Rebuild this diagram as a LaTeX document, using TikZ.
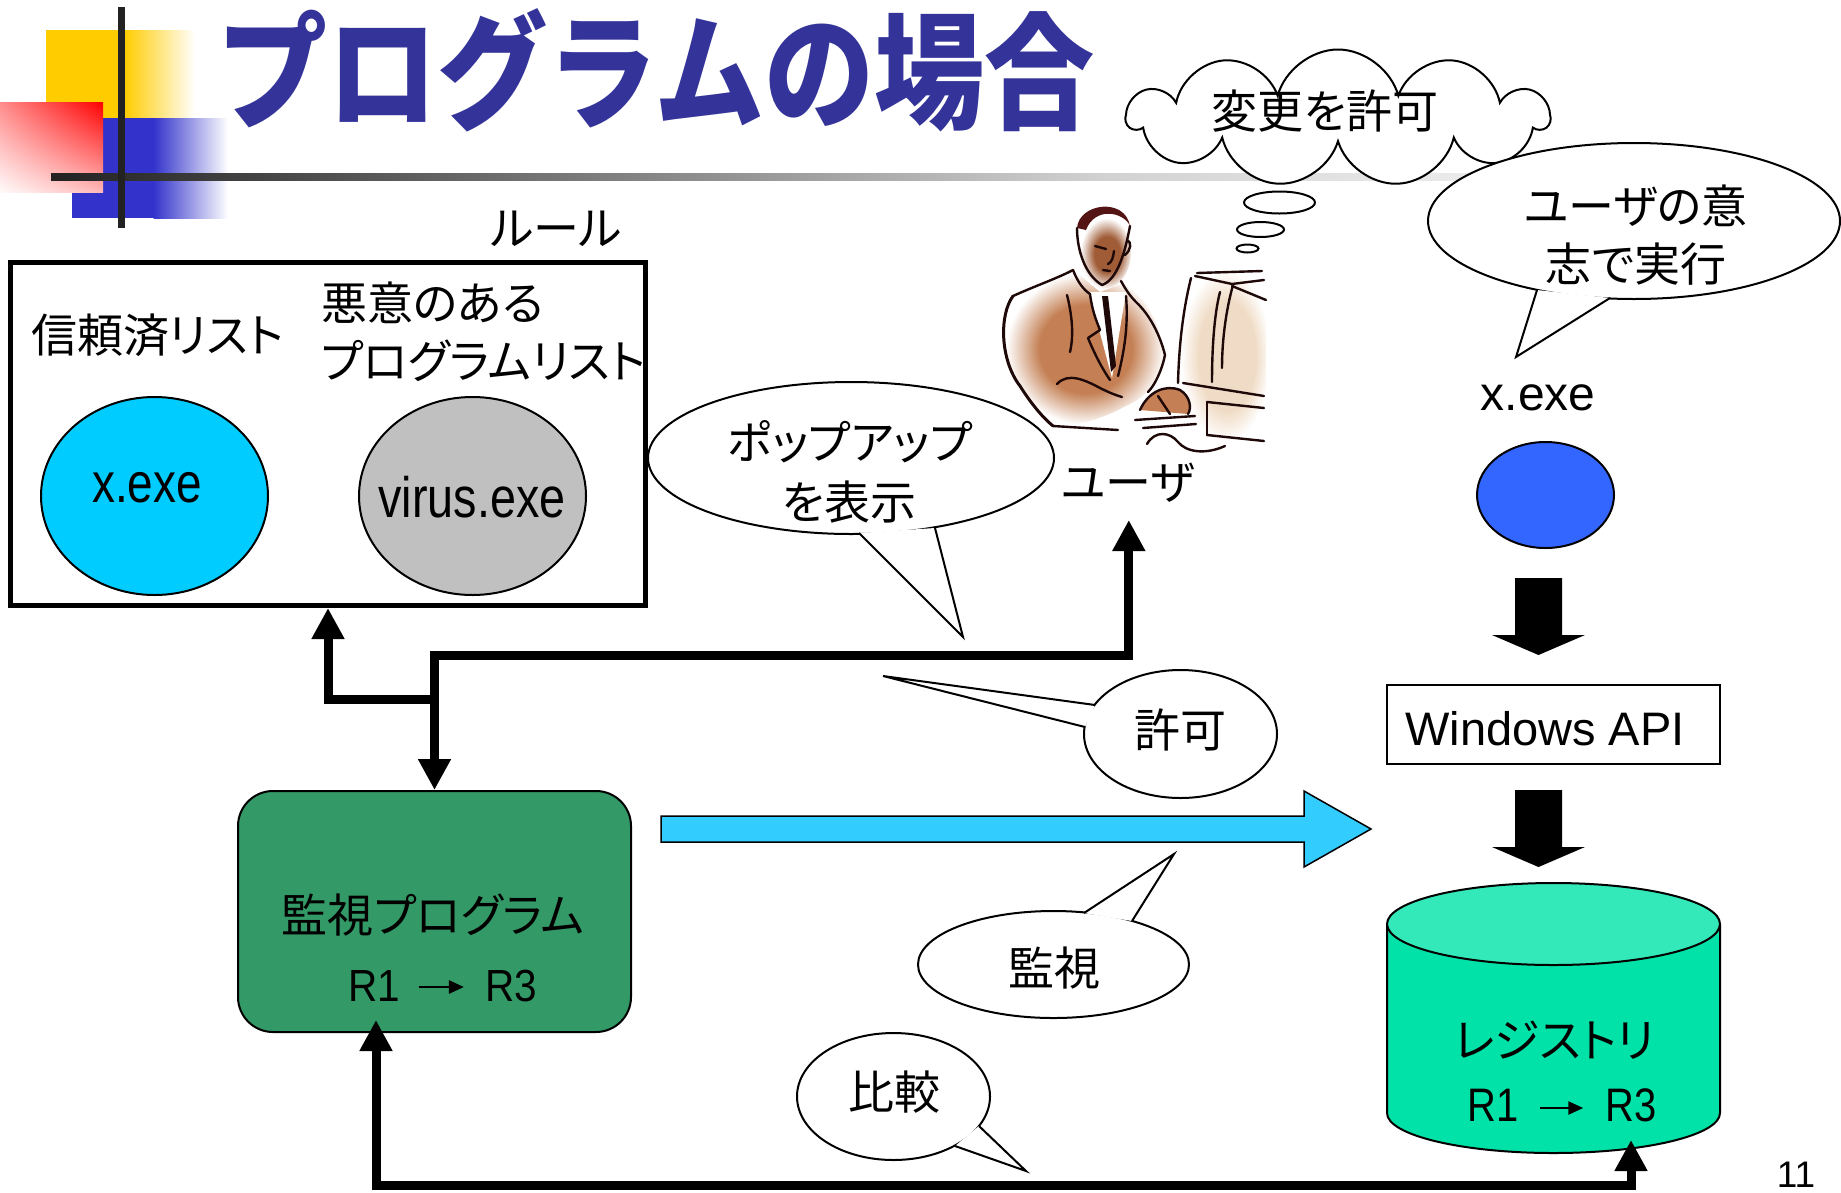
\documentclass[tikz,border=0pt]{standalone}
\usepackage{fontspec}
\usetikzlibrary{arrows.meta,shapes.geometric,shapes.symbols,calc,shadings}
\newfontfamily\jp[RawFeature=+palt]{Noto Sans CJK JP}
\newfontfamily\jptitle{Noto Sans CJK JP}
\newfontfamily\lat{Liberation Sans}

\definecolor{titleblue}{RGB}{51,51,153}
\definecolor{xcyan}{RGB}{0,204,255}
\definecolor{vgray}{RGB}{192,192,192}
\definecolor{mgreen}{RGB}{51,153,102}
\definecolor{acyan}{RGB}{51,204,255}
\definecolor{xblue}{RGB}{51,102,255}
\definecolor{regbody}{RGB}{0,226,168}
\definecolor{regtop}{RGB}{51,233,186}
\definecolor{decoyellow}{RGB}{255,204,0}
\definecolor{decoblue}{RGB}{51,51,204}
\definecolor{barink}{RGB}{34,34,34}
\definecolor{suit}{RGB}{196,128,84}
\definecolor{skin}{RGB}{160,92,55}
\definecolor{beige}{RGB}{240,220,198}
\definecolor{ink}{RGB}{30,8,8}
\definecolor{hair}{RGB}{85,20,20}

\pgfdeclareradialshading{suitshade}{\pgfpointorigin}{color(0bp)=(suit); color(14bp)=(suit); color(24bp)=(white); color(50bp)=(white)}
\pgfdeclareradialshading{faceshade}{\pgfpoint{4bp}{-2bp}}{color(0bp)=(skin); color(12bp)=(skin); color(24bp)=(white); color(50bp)=(white)}
\pgfdeclareradialshading{monshade}{\pgfpoint{5bp}{0bp}}{color(0bp)=(beige); color(16bp)=(beige); color(25bp)=(white); color(50bp)=(white)}

\tikzset{
  jtxt/.style={font=\jp\fontsize{46}{52}\selectfont, inner sep=0pt},
  ltxt/.style={font=\lat\fontsize{#1}{#1}\selectfont, inner sep=0pt, anchor=base},
  conn/.style={line width=9pt, line join=miter},
  hd/.tip={Triangle[length=31pt,width=31pt]},
  smallarr/.style={line width=2.5pt, -{Triangle[length=15pt,width=13pt]}},
  thinline/.style={line width=2pt},
  bubble/.style={draw, fill=white, line width=2pt},
  fatarrow/.style={fill=black},
  sketch/.style={draw=ink, line width=2.4pt, line cap=round, line join=round}
}

\begin{document}
\begin{tikzpicture}[x=1pt,y=-1pt]
\useasboundingbox (0,0) rectangle (1841,1192);

% ---- corner ornament and title rule
\fill[decoyellow] (46,30) rectangle (125,118);
\shade[left color=decoyellow, right color=white] (124.5,30) rectangle (195,118);
\fill[decoblue] (72,118) rectangle (154,218);
\shade[left color=decoblue, right color=white] (153.5,118) rectangle (228,218);
\shade[upper left=red!45, upper right=red, lower left=red!2, lower right=red!28] (0,102) rectangle (103,192);
\shade[left color=barink, right color=black!18] (51,173) rectangle (1100,180);
\shade[left color=black!18, right color=white] (1099.5,173) rectangle (1750,180);
\fill[barink] (118,7) rectangle (125,228);

\node[font=\jptitle\bfseries\fontsize{108}{110}\selectfont, text=titleblue, inner sep=0pt, yscale=1.17, xscale=1.02] (title) at (656,70) {プログラムの場合};

% ---- rule box
\node[draw, line width=5pt, minimum width=635pt, minimum height=343pt, inner sep=0pt] (rulebox) at (328,434) {};
\node[jtxt] (rulelabel) at (556,229) {ルール};
\node[jtxt, anchor=west] (trusted) at (31,335) {信頼済リスト};
\node[jtxt, anchor=west] (malic1) at (321,303) {悪意のある};
\node[jtxt, anchor=west] (malic2) at (321,361) {プログラムリスト};
\node[ellipse, draw, thinline, fill=xcyan, minimum width=227pt, minimum height=198pt, inner sep=0pt] (trustx) at (154.5,496) {};
\node[ltxt=56] (trustxl) at (147,502) {\scalebox{0.82}[1]{x.exe}};
\node[ellipse, draw, thinline, fill=vgray, minimum width=227pt, minimum height=198pt, inner sep=0pt] (virus) at (472.5,496) {};
\node[ltxt=57] (virusl) at (472,517) {\scalebox{0.82}[1]{virus.exe}};

% ---- user at the computer
\begin{scope}
\shade[shading=suitshade] (1013,295) .. controls (1040,284) and (1062,276) .. (1074,270) -- (1100,292) -- (1124,283) .. controls (1142,295) and (1156,315) .. (1163,345) .. controls (1168,372) and (1150,396) .. (1126,406) .. controls (1100,420) and (1072,428) .. (1053,425) .. controls (1025,402) and (1004,362) .. (1003,330) .. controls (1003,312) and (1007,302) .. (1013,295) -- cycle;
\shade[shading=monshade] (1192,272) -- (1266,270) -- (1266,442) -- (1197,440) .. controls (1180,400) and (1176,320) .. (1192,272) -- cycle;
\shade[shading=faceshade] (1104,252) ellipse [x radius=27pt, y radius=37pt];
\fill[white] (1089,292) -- (1112,378) -- (1126,292) -- cycle;
\fill[hair] (1077,228) .. controls (1079,203) and (1125,197) .. (1130,226) .. controls (1124,212) and (1095,206) .. (1086,230) -- cycle;
\fill[ink] (1102,296) -- (1108,296) -- (1116,366) -- (1111,372) -- cycle;
\fill[suit] (1140,410) .. controls (1148,392) and (1165,384) .. (1180,390) .. controls (1190,396) and (1192,408) .. (1188,414) -- cycle;
\draw[sketch] (1077,228) .. controls (1077,250) and (1085,275) .. (1102,285);
\draw[sketch] (1102,285) .. controls (1116,280) and (1124,258) .. (1130,226);
\draw[sketch] (1095,246) -- (1106,249);
\draw[sketch] (1114,251) .. controls (1113,258) and (1112,262) .. (1108,264);
\draw[sketch] (1103,270) -- (1110,271);
\draw[sketch] (1127,240) .. controls (1132,242) and (1131,250) .. (1125,255);
\draw[sketch] (1073,270) .. controls (1078,283) and (1084,290) .. (1090,294);
\draw[sketch] (1121,281) .. controls (1126,290) and (1130,296) .. (1136,302);
\draw[sketch] (1013,296) .. controls (1035,286) and (1058,278) .. (1073,270);
\draw[sketch, line width=3pt] (1013,296) .. controls (999,315) and (1000,360) .. (1020,386) .. controls (1030,402) and (1042,417) .. (1053,426);
\draw[sketch] (1053,426) -- (1118,430);
\draw[sketch] (1136,302) .. controls (1150,315) and (1160,335) .. (1165,355);
\draw[sketch] (1165,355) .. controls (1162,370) and (1155,385) .. (1148,392);
\draw[sketch] (1090,294) .. controls (1092,310) and (1096,320) .. (1100,330) -- (1088,338) .. controls (1095,355) and (1103,370) .. (1110,380);
\draw[sketch] (1126,296) .. controls (1128,320) and (1126,345) .. (1118,376);
\draw[sketch] (1057,384) .. controls (1068,372) and (1085,380) .. (1100,388) .. controls (1108,392) and (1115,395) .. (1122,397);
\draw[sketch] (1067,295) .. controls (1072,315) and (1074,335) .. (1070,352);
\draw[sketch] (1140,410) .. controls (1148,392) and (1165,384) .. (1180,390) .. controls (1190,396) and (1192,408) .. (1188,414);
\draw[sketch] (1158,396) -- (1170,414);
\draw[sketch] (1135,420) -- (1195,416);
\draw[sketch] (1143,428) -- (1196,424);
\draw[sketch] (1147,444) .. controls (1155,430) and (1170,432) .. (1178,442) .. controls (1186,452) and (1205,455) .. (1225,446);
\draw[sketch] (1197,273) -- (1262,271);
\draw[sketch] (1191,278) .. controls (1183,310) and (1179,345) .. (1178,383);
\draw[sketch] (1233,285) .. controls (1226,310) and (1222,340) .. (1222,368);
\draw[sketch] (1220,292) .. controls (1214,315) and (1212,350) .. (1212,382);
\draw[sketch] (1195,276) -- (1232,284) -- (1264,280);
\draw[sketch] (1232,286) -- (1266,300);
\draw[sketch] (1183,383) -- (1264,396);
\draw[sketch] (1207,402) -- (1264,408);
\draw[sketch] (1207,402) -- (1207,435);
\draw[sketch] (1207,435) -- (1264,441);
\end{scope}
\node[jtxt] (user) at (1128,483) {ユーザ};

% ---- popup bubble
\node[ellipse, bubble, minimum width=406pt, minimum height=152pt, inner sep=0pt] (popup) at (851,458) {};
\fill[white] (859,533) -- (963,637) -- (935,528) -- cycle;
\draw[thinline] (859,533) -- (963,637) -- (935,528);
\node[jtxt] (popup1) at (850,442) {ポップアップ};
\node[jtxt] (popup2) at (849,502) {を表示};

% ---- monitoring program
\node[draw, thinline, fill=mgreen, rounded corners=35pt, minimum width=393pt, minimum height=241pt, inner sep=0pt] (monitor) at (434.5,911.5) {};
\node[jtxt] (montitle) at (433,915) {監視プログラム};
\node[ltxt=45] (monr1) at (374.5,1001) {\scalebox{0.9}[1]{R1}};
\node[ltxt=45] (monr3) at (511,1001) {\scalebox{0.9}[1]{R3}};
\draw[smallarr] ($(monr1.base east)+(18,-14)$) -- ($(monr3.base west)+(-21,-14)$);

% ---- connectors around the monitor
\coordinate (jtop) at (434.5,655);
\coordinate (jmid) at (434.5,699.5);
\coordinate (usertip) at (1128.8,520);
\draw[conn,{hd}-{hd}] (monitor.north) -- (jtop) -| (usertip);
\draw[conn,-{hd}] (jmid) -| (rulebox.south);

% ---- permission bubble
\node[ellipse, bubble, minimum width=193pt, minimum height=128pt, inner sep=0pt] (permit) at (1180.5,734) {};
\fill[white] (1095,705) -- (883,676) -- (1085,727) -- cycle;
\draw[thinline] (1095,705) -- (883,676) -- (1085,727);
\node[jtxt] (permitl) at (1180,730) {許可};

% ---- monitoring arrow
\filldraw[fill=acyan, draw=black, line width=1.5pt] (661,816) -- (1304,816) -- (1304,791) -- (1371,829) -- (1304,867) -- (1304,842) -- (661,842) -- cycle;

% ---- watch bubble
\node[ellipse, bubble, minimum width=271pt, minimum height=107pt, inner sep=0pt] (watch) at (1053.5,964.5) {};
\fill[white] (1084,913) -- (1174,854) -- (1132,921) -- cycle;
\draw[thinline] (1084,913) -- (1174,854) -- (1132,921);
\node[jtxt] (watchl) at (1054,968) {監視};

% ---- compare bubble
\node[ellipse, bubble, minimum width=193pt, minimum height=127pt, inner sep=0pt] (compare) at (893.5,1096.5) {};
\fill[white] (979,1126) -- (1026,1171) -- (955,1146) -- cycle;
\draw[thinline] (979,1126) -- (1026,1171) -- (955,1146);
\node[jtxt] (comparel) at (894,1092) {比較};

% ---- program started by the user
\node[ltxt=48] (xlabel) at (1538,410) {x.exe};
\node[ellipse, draw, thinline, fill=xblue, minimum width=137pt, minimum height=106pt, inner sep=0pt] (xproc) at (1545.5,495) {};
\fill[fatarrow] (1515,578) -- (1562,578) -- (1562,635) -- (1585,635) -- (1538.5,655) -- (1492,635) -- (1515,635) -- cycle;
\node[draw, thinline, fill=white, minimum width=333pt, minimum height=79pt, inner sep=0pt] (api) at (1553.5,724.5) {};
\node[ltxt=47] (apil) at (1545,745) {Windows API};
\fill[fatarrow] (1515,790) -- (1562,790) -- (1562,847) -- (1585,847) -- (1538.5,867) -- (1492,847) -- (1515,847) -- cycle;

% ---- registry cylinder
\fill[regbody] (1387,924) -- (1387,1113) arc[start angle=180, end angle=360, x radius=166.5pt, y radius=40pt] -- (1720,924) -- cycle;
\draw[thinline] (1387,924) -- (1387,1113) arc[start angle=180, end angle=360, x radius=166.5pt, y radius=40pt] -- (1720,924);
\filldraw[thinline, fill=regtop] (1553.5,924) ellipse [x radius=166.5pt, y radius=41pt];
\node[inner sep=0pt, minimum width=333pt, minimum height=271pt] (registry) at (1553.5,1017.5) {};
\node[jtxt] (regname) at (1554,1040) {レジストリ};
\node[ltxt=47] (regr1) at (1493.5,1121) {\scalebox{0.85}[1]{R1}};
\node[ltxt=47] (regr3) at (1631,1121) {\scalebox{0.85}[1]{R3}};
\draw[smallarr] ($(regr1.base east)+(21,-13)$) -- ($(regr3.base west)+(-22,-13)$);

% ---- comparison line
\coordinate (mtip) at (376,1020);
\coordinate (rtip) at (1631,1140);
\draw[conn,{hd}-{hd}] (mtip) |- ($(rtip)+(0,45)$) -- (rtip);

% ---- thought cloud
\node[cloud, cloud puffs=11, aspect=3.1, draw, thinline, fill=white, minimum width=421pt, minimum height=137pt, inner sep=0pt] (thought) at (1338,118) {};
\node[jtxt] (thoughtl) at (1325,111) {変更を許可};
\draw[thinline] (1279.5,202.5) ellipse [x radius=35.5pt, y radius=11pt];
\draw[thinline] (1260.5,229.5) ellipse [x radius=23.5pt, y radius=7.5pt];
\draw[thinline] (1247.5,248.5) ellipse [x radius=11pt, y radius=4pt];

% ---- intention bubble
\node[ellipse, bubble, minimum width=412pt, minimum height=156pt, inner sep=0pt] (intent) at (1634,221) {};
\fill[white] (1537,290) -- (1516,357) -- (1610,298) -- cycle;
\draw[thinline] (1537,290) -- (1516,357) -- (1610,298);
\node[jtxt] (intent1) at (1636,206) {ユーザの意};
\node[jtxt] (intent2) at (1636,264) {志で実行};

% ---- page number
\node[ltxt=37] (pagenum) at (1796,1187) {11};
\end{tikzpicture}
\end{document}
